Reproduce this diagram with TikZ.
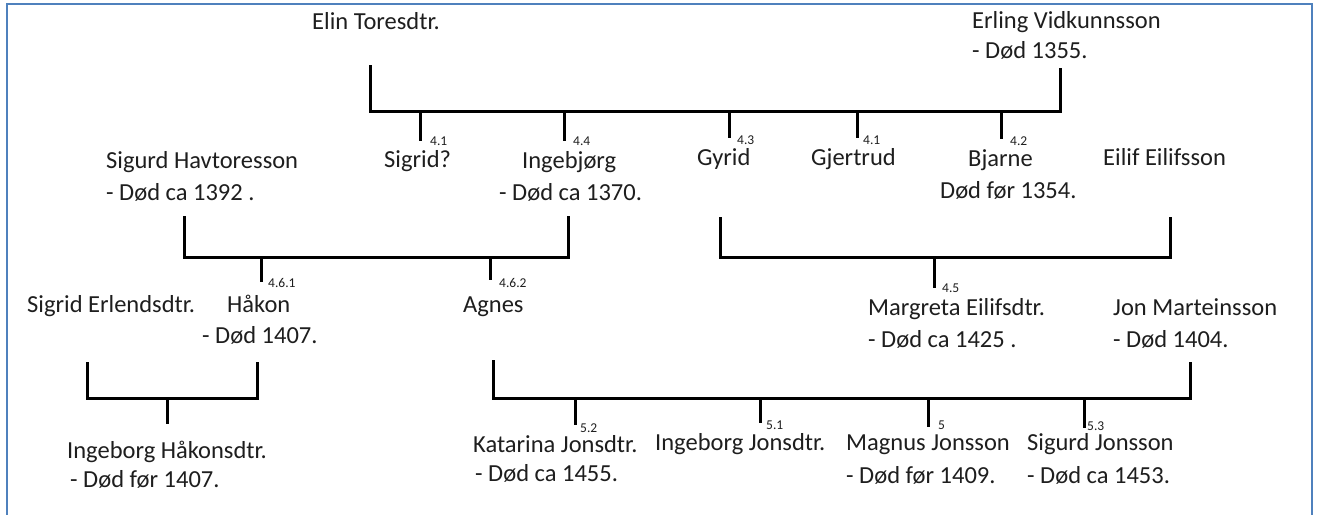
\documentclass[tikz,border=0pt]{standalone}
\usepackage{fontspec}
\setmainfont{Carlito}
\definecolor{frameblue}{HTML}{4F81BD}
\definecolor{txt}{HTML}{1E1E1E}
\tikzset{
  person/.style={anchor=base west, inner sep=0pt, text=txt, font=\fontsize{24.5}{29}\selectfont},
  num/.style={anchor=base west, inner sep=0pt, text=txt, font=\fontsize{13.5}{15}\selectfont},
  link/.style={line width=3pt, black, line join=miter},
  frame/.style={line width=1.7pt, frameblue}
}
\begin{document}
\begin{tikzpicture}[x=1pt,y=-1pt]
\useasboundingbox (0,0) rectangle (1317,514);
\fill[white] (0,0) rectangle (1317,514);
\draw[frame] (6.8,530) -- (6.8,3.8) -- (1312,3.8) -- (1312,530);

% ---- generation 1
\node[person] (elin) at (312,29) {Elin Toresdtr.};
\node[person] (erling) at (972,28) {Erling Vidkunnsson};
\node[person] (erlingd) at (972,58) {- Død 1355.};

% ---- generation 2
\node[person] (sigurdh) at (106,168) {Sigurd Havtoresson};
\node[person] (sigurdhd) at (106,200) {- Død ca 1392 .};
\node[person] (sigrid) at (384,167) {Sigrid?};
\node[person] (ingebj) at (522,168) {Ingebjørg};
\node[person] (ingebjd) at (499,200) {- Død ca 1370.};
\node[person] (gyrid) at (697,165) {Gyrid};
\node[person] (gjertrud) at (811,165) {Gjertrud};
\node[person] (bjarne) at (968,166) {Bjarne};
\node[person] (bjarned) at (940,198) {Død før 1354.};
\node[person] (eilif) at (1103,165) {Eilif Eilifsson};

\node[num] (n41a) at (430,145) {4.1};
\node[num] (n44) at (573,145) {4.4};
\node[num] (n43) at (737,144) {4.3};
\node[num] (n41b) at (863,144) {4.1};
\node[num] (n42) at (1010,145) {4.2};

% ---- generation 3
\node[person] (sigride) at (27,312) {Sigrid Erlendsdtr.};
\node[person] (hakon) at (227,312) {Håkon};
\node[person] (hakond) at (202,343) {- Død 1407.};
\node[person] (agnes) at (463,312) {Agnes};
\node[person] (margreta) at (868,315) {Margreta Eilifsdtr.};
\node[person] (margretad) at (868,347) {- Død ca 1425 .};
\node[person] (jon) at (1113,315) {Jon Marteinsson};
\node[person] (jond) at (1113,347) {- Død 1404.};

\node[num] (n461) at (268,287) {4.6.1};
\node[num] (n462) at (499,287) {4.6.2};
\node[num] (n45) at (942,292) {4.5};

% ---- generation 4
\node[person] (ingeh) at (67,458) {Ingeborg Håkonsdtr.};
\node[person] (ingehd) at (70,487) {- Død før 1407.};
\node[person] (katarina) at (473,452) {Katarina Jonsdtr.};
\node[person] (katarinad) at (475,481) {- Død ca 1455.};
\node[person] (ingej) at (655,450) {Ingeborg Jonsdtr.};
\node[person] (magnus) at (846,450) {Magnus Jonsson};
\node[person] (magnusd) at (846,483) {- Død før 1409.};
\node[person] (sigurdj) at (1027,450) {Sigurd Jonsson};
\node[person] (sigurdjd) at (1027,483) {- Død ca 1453.};

\node[num] (n52) at (580,432) {5.2};
\node[num] (n51) at (766,429) {5.1};
\node[num] (n5) at (938,429) {5};
\node[num] (n53) at (1087,430) {5.3};

% ---- connector end points
\coordinate (elinT) at (370,65);   \coordinate (elinB) at (370,111);
\coordinate (erlT) at (1060,68);   \coordinate (erlB) at (1060,111);
\coordinate (sigT) at (184,216);   \coordinate (sigB) at (184,257);
\coordinate (ingT) at (568,216);   \coordinate (ingB) at (568,257);
\coordinate (gyrT) at (720,217);   \coordinate (gyrB) at (720,257);
\coordinate (eilT) at (1170,217);  \coordinate (eilB) at (1170,257);
\coordinate (serT) at (87,362);    \coordinate (serB) at (87,398);
\coordinate (hakT) at (257,362);   \coordinate (hakB) at (257,398);
\coordinate (agnT) at (493,360);   \coordinate (agnB) at (493,398);
\coordinate (jonT) at (1190,362);  \coordinate (jonB) at (1190,398);

% couples
\draw[link] (elinT) -- (elinB) -- (erlB) -- (erlT);
\draw[link] (sigT) -- (sigB) -- (ingB) -- (ingT);
\draw[link] (gyrT) -- (gyrB) -- (eilB) -- (eilT);
\draw[link] (serT) -- (serB) -- (hakB) -- (hakT);
\draw[link] (agnT) -- (agnB) -- (jonB) -- (jonT);

% children drops
\coordinate (dSigrid) at (420,141);   \draw[link] (dSigrid |- elinB) -- (dSigrid);
\coordinate (dIngebj) at (564,141);   \draw[link] (dIngebj |- elinB) -- (dIngebj);
\coordinate (dGyrid) at (729,138);    \draw[link] (dGyrid |- elinB) -- (dGyrid);
\coordinate (dGjert) at (857,138);    \draw[link] (dGjert |- elinB) -- (dGjert);
\coordinate (dBjarne) at (1001,139);  \draw[link] (dBjarne |- elinB) -- (dBjarne);

\coordinate (dHakon) at (261,282);    \draw[link] (dHakon |- sigB) -- (dHakon);
\coordinate (dAgnes) at (490,280);    \draw[link] (dAgnes |- sigB) -- (dAgnes);
\coordinate (dMarg) at (934,288);     \draw[link] (dMarg |- gyrB) -- (dMarg);

\coordinate (dIngeh) at (167,424);    \draw[link] (dIngeh |- serB) -- (dIngeh);
\coordinate (dKat) at (575,425);      \draw[link] (dKat |- agnB) -- (dKat);
\coordinate (dIngej) at (760,423);    \draw[link] (dIngej |- agnB) -- (dIngej);
\coordinate (dMagnus) at (928,427);   \draw[link] (dMagnus |- agnB) -- (dMagnus);
\coordinate (dSigj) at (1084,428);    \draw[link] (dSigj |- agnB) -- (dSigj);
\end{tikzpicture}
\end{document}
